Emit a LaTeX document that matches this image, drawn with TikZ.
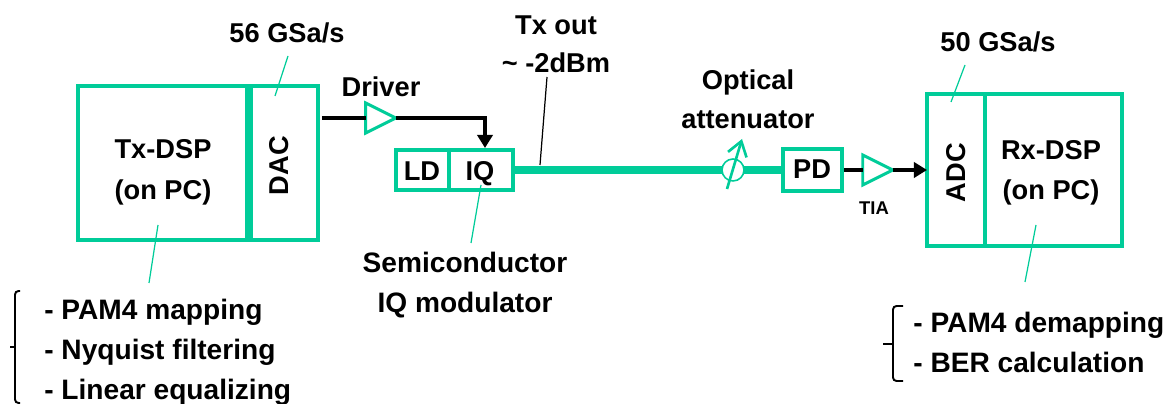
\documentclass[tikz,border=0pt]{standalone}
\usepackage{fontspec}
\setmainfont{Liberation Sans}
\usetikzlibrary{arrows.meta}
\usetikzlibrary{shapes.geometric}
\definecolor{fibregreen}{RGB}{0,204,153}
\tikzset{
  lbl/.style={font=\fontsize{15.5}{18}\bfseries\selectfont,inner sep=0pt,text height=11pt,text depth=2pt,yshift=-1pt},
  listlbl/.style={font=\fontsize{16}{19}\bfseries\selectfont,inner sep=0pt,text height=11.5pt,text depth=2pt,anchor=west,yshift=-0.5pt},
  smalllbl/.style={font=\fontsize{10.5}{12}\bfseries\selectfont,inner sep=0pt},
  blockbox/.style={draw=fibregreen,line width=2.3pt,rectangle,inner sep=0pt,outer sep=0pt},
  ampbox/.style={draw=fibregreen,line width=1.7pt,isosceles triangle,isosceles triangle stretches,shape border rotate=0,minimum width=0.6cm,minimum height=0.6cm,inner sep=0pt,outer sep=0pt},
  wire/.style={black,line width=2.2pt},
  leader/.style={fibregreen,line width=0.7pt},
  bracket/.style={black,line width=1.1pt,rounded corners=2pt}
}
\begin{document}
\begin{tikzpicture}[x=0.02cm,y=-0.02cm]
\useasboundingbox (0,0) rectangle (1166,404);
% labels
\node[lbl] (rate56) at (287,33) {56 GSa/s};
\node[lbl] (rate50) at (998,42) {50 GSa/s};
\node[lbl] (driver) at (381,87) {Driver};
\node[lbl] (txout) at (556,25) {Tx out};
\node[lbl] (txpow) at (556,63) {\textasciitilde{} -2dBm};
\node[lbl] (optical) at (748,80) {Optical};
\node[lbl] (attenuator) at (748,119) {attenuator};
\node[listlbl,anchor=center] (semi) at (465,263) {Semiconductor};
\node[listlbl,anchor=center] (iqmod) at (465,303) {IQ modulator};
\node[listlbl] (txlista) at (44,310) {- PAM4 mapping};
\node[listlbl] (txlistb) at (44,350) {- Nyquist filtering};
\node[listlbl] (txlistc) at (44,390) {- Linear equalizing};
\node[listlbl] (rxlista) at (913,323) {- PAM4 demapping};
\node[listlbl] (rxlistb) at (913,363) {- BER calculation};
% leaders
\coordinate (lead56) at (275,96);
\coordinate (lead50) at (951,102);
\coordinate (leadtx) at (158,225);
\coordinate (leadrx) at (1036,225);
\coordinate (leadiq) at (481,185);
\coordinate (leadout) at (540,165);
\draw[leader] (288,56) -- (lead56);
\draw[leader] (965,65) -- (lead50);
\draw[leader] (leadtx) -- (149,283);
\draw[leader] (leadrx) -- (1025,282);
\draw[leader] (leadiq) -- (471,243);
\draw[black,line width=0.7pt] (leadout) -- (547,77);
% blocks
\node[blockbox,minimum width=3.42cm,minimum height=3.08cm] (txdsp) at (163.5,163) {};
\node[blockbox,minimum width=1.38cm,minimum height=3.08cm] (dac) at (283.5,163) {};
\node[blockbox,minimum width=1.16cm,minimum height=3.04cm] (adc) at (956,170) {};
\node[blockbox,minimum width=2.74cm,minimum height=3.04cm] (rxdsp) at (1053.5,170) {};
\node[blockbox,minimum width=1.06cm,minimum height=0.8cm] (ld) at (422.5,170) {};
\node[blockbox,minimum width=1.28cm,minimum height=0.8cm] (iq) at (481,170) {};
\node[blockbox,minimum width=1.18cm,minimum height=0.84cm] (pd) at (812.5,170) {};
\node[ampbox] (driveramp) at (375,118) {};
\node[ampbox] (tiaamp) at (872,170) {};
% wires
\draw[fibregreen,line width=4pt] (iq.east) -- (pd.west);
\draw[blockbox,line width=4.5pt] (txdsp.north east) -- (txdsp.south east);
\draw[wire] ([xshift=0.08cm]dac.east |- driveramp.west) -- (driveramp.west);
\draw[wire,-{Triangle[length=7.5pt,width=8.7pt]}] (driveramp.east) -| ([xshift=0.08cm,yshift=0.04cm]iq.north);
\draw[wire] ([xshift=0.04cm]pd.east) -- (tiaamp.west);
\draw[wire,-{Triangle[length=7.5pt,width=8.7pt]}] (tiaamp.east) -- (adc.west);
% attenuator
\node[circle,draw=fibregreen,fill=white,line width=0.9pt,minimum size=0.44cm,inner sep=0pt] (atten) at (733,170) {};
\coordinate (attenlow) at (727,189);
\coordinate (attenhigh) at (742,139);
\draw[fibregreen,line width=1.5pt,-{Straight Barb[length=8pt,width=11pt]}] (attenlow) -- (attenhigh);
% block labels
\node[lbl] (txa) at (163,149) {Tx-DSP};
\node[lbl] (txb) at (163,190) {(on PC)};
\node[lbl,rotate=90] (daclbl) at (281,164) {DAC};
\node[lbl,rotate=90] (adclbl) at (958,171) {ADC};
\node[lbl] (rxa) at (1051,150) {Rx-DSP};
\node[lbl] (rxb) at (1051,190) {(on PC)};
\node[lbl] (ldlbl) at (422,171) {LD};
\node[lbl] (iqlbl) at (480,171) {IQ};
\node[lbl] (pdlbl) at (812,169) {PD};
\node[smalllbl] (tialbl) at (874,208) {TIA};
% brackets
\draw[bracket] (20,291) -- (15,291) -- (15,403) -- (20,403);
\draw[bracket,sharp corners] (10,347) -- (15,347);
\draw[bracket] (903,306) -- (893,306) -- (893,381) -- (903,381);
\draw[bracket,sharp corners] (883,344) -- (893,344);
\end{tikzpicture}
\end{document}
